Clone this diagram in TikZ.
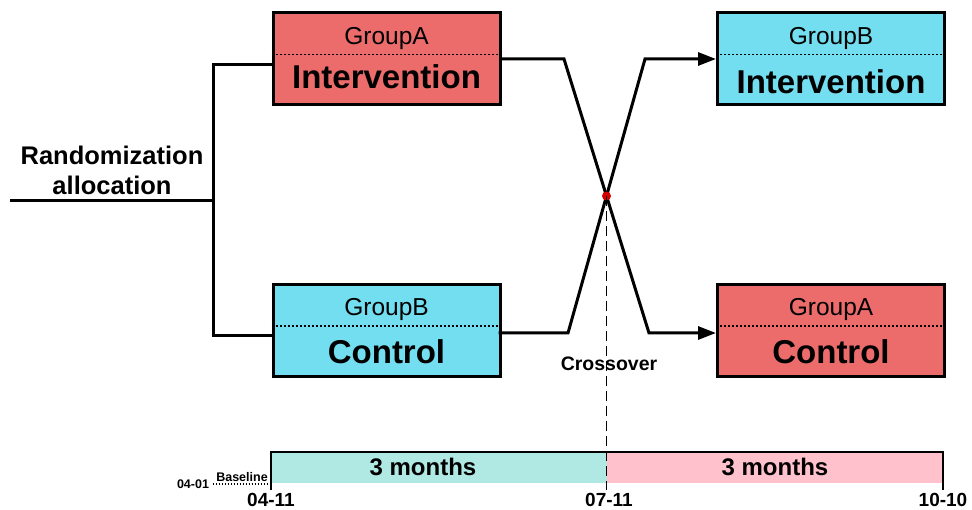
\documentclass[tikz,border=0pt]{standalone}
\usepackage{fontspec}
\setmainfont{Liberation Sans}
\usetikzlibrary{arrows.meta}

\definecolor{groupred}{HTML}{EC6B6B}
\definecolor{groupcyan}{HTML}{72DEF0}
\definecolor{periodcyan}{HTML}{B0E8E4}
\definecolor{periodpink}{HTML}{FFC1CC}
\definecolor{dotred}{HTML}{D40000}

\newcommand{\grpfont}{\fontsize{24.5}{28}\selectfont}
\newcommand{\armfont}{\fontsize{33}{38}\selectfont\bfseries}
\newcommand{\datefont}{\fontsize{19}{22}\selectfont\bfseries}

\tikzset{
  armbox/.style={draw, line width=3pt, minimum width=227pt, minimum height=92pt, inner sep=0pt},
  conn/.style={line width=3pt},
  splitline/.style={dash pattern=on 2pt off 2pt, line width=1.4pt},
  period/.style={minimum width=#1, minimum height=31pt, inner sep=0pt, font=\fontsize{24}{28}\selectfont\bfseries}
}

\begin{document}
\begin{tikzpicture}[x=1pt, y=-1pt]
  \useasboundingbox (0,0) rectangle (972,510);

  \foreach \n/\x/\y/\c/\g/\a/\o in {
      ai/386.5/59/groupred/GroupA/Intervention/18,
      bc/386.5/330.5/groupcyan/GroupB/Control/21.5,
      bi/831/59/groupcyan/GroupB/Intervention/23,
      ac/831/330.5/groupred/GroupA/Control/21.5} {
    \node[armbox, fill=\c] (\n) at (\x,\y) {};
    \node[font=\grpfont] (\n-g) at (\x,\y-21) {\g};
    \node[font=\armfont] (\n-a) at (\x,\y+\o) {\a};
    \draw[splitline] (\n.west |- 0,\y-4.5) -- (\n.east |- 0,\y-4.5);
  }

  \node[align=center, font=\fontsize{25.5}{30}\selectfont\bfseries] (rand) at (112,170) {Randomization\\allocation};

  \coordinate (rand-in) at (10,201);
  \coordinate (split) at (213,201);
  \draw[conn] (rand-in) -- (split);
  \draw[conn] (ai.west |- 0,65) -| (split) |- (bc.west |- 0,336);

  \coordinate (cross) at (606.5,196);
  \draw[conn, -{Triangle[length=18pt, width=13pt]}] (ai.east) -- (564,59) -- (cross) -- (649,333) -- (ac.west |- 0,333);
  \draw[conn, -{Triangle[length=18pt, width=13pt]}] (bc.west |- 0,333) ++(227,0) -- (568,333) -- (cross) -- (645,59) -- (bi.west);
  \fill[dotred] (cross) circle[radius=4.5pt];

  \node[period=335.5pt, fill=periodcyan] (p1) at (438.75,467.5) {};
  \node[period=336.5pt, fill=periodpink] (p2) at (774.75,467.5) {};
  \node[font=\fontsize{24}{28}\selectfont\bfseries] (p1-t) at (423,467) {3 months};
  \node[font=\fontsize{24}{28}\selectfont\bfseries] (p2-t) at (775,467) {3 months};
  \draw[line width=2pt] (p1.south west) ++(0,7) -- (p1.north west) -- (p2.north east) -- ++(0,38);

  \draw[dash pattern=on 10pt off 5pt, line width=1.6pt] (cross) -- (606.5,490);
  \node[font=\fontsize{19.5}{22}\selectfont\bfseries] (xlabel) at (609,364) {Crossover};

  \foreach \x/\d in {271/04-11, 609/07-11, 943/10-10} {
    \node[font=\datefont] (d-\d) at (\x,500) {\d};
  }

  \node[font=\fontsize{12.5}{14}\selectfont\bfseries] (d-base) at (193,484) {04-01};
  \node[font=\fontsize{12.5}{14}\selectfont\bfseries] (base) at (242,477) {Baseline};
  \draw[dash pattern=on 1.5pt off 1.5pt, line width=1.2pt] (d-base.east |- 0,484) -- (p1.west |- 0,484);
\end{tikzpicture}
\end{document}
